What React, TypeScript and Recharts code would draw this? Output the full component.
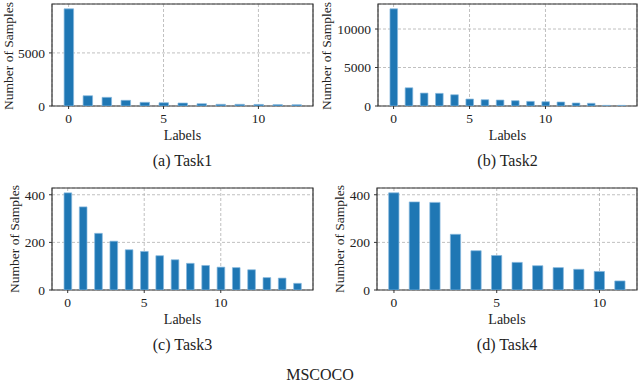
import { BarChart, Bar, XAxis, YAxis, CartesianGrid, ReferenceArea } from 'recharts';

// samples per label
const task1Counts = [9150, 966, 816, 535, 347, 310, 281, 216, 160, 160, 150, 130, 120];
const task2Counts = [12620, 2365, 1680, 1640, 1460, 905, 815, 775, 690, 600, 555, 517, 390, 350, 80, 80];
const task3Counts = [408, 349, 238, 205, 169, 162, 144, 127, 112, 103, 96, 94, 85, 52, 50, 28];
const task4Counts = [408, 370, 368, 234, 165, 145, 116, 102, 94, 87, 78, 38];

const xTicks = [0, 5, 10];
const task1YTicks = [0, 5000];
const task2YTicks = [0, 5000, 10000];
const smallYTicks = [0, 200, 400];

const FONT = '"Liberation Serif", "DejaVu Serif", serif';
const TICK_STYLE = { fontFamily: FONT, fontSize: 13.5, fill: '#222' };
const BAR_COLOR = '#1f77b4';
const FRAME = '#333';

const PANEL_W = 320;
const PANEL_H = 175;
const X_AXIS_H = 30;

interface PanelProps {
  counts: number[];
  yTicks: number[];
  left: number;
  top: number;
  plotTop: number;
  plotBottom: number;
  axisWidth: number;
  right: number;
  yLabelX: number;
  caption: string;
}

function Panel({ counts, yTicks, left, top, plotTop, plotBottom, axisWidth, right, yLabelX, caption }: PanelProps) {
  const rows = counts.map((count, label) => ({ label, count }));
  const n = counts.length;
  // matplotlib-style 5% margins around bars of width 0.5
  const span = n - 0.5;
  const xDomain: [number, number] = [-0.25 - span * 0.05, n - 0.75 + span * 0.05];
  const yMax = Math.max(...counts) * 1.05;
  const plotW = PANEL_W - axisWidth - right;
  const plotH = plotBottom - plotTop;
  const barSize = (0.5 * plotW) / (xDomain[1] - xDomain[0]);
  const cx = axisWidth + plotW / 2;
  const cy = Math.max(plotTop + plotH / 2, 56);

  return (
    <div style={{ position: 'absolute', left, top, width: PANEL_W, height: PANEL_H }}>
      <BarChart
        width={PANEL_W}
        height={PANEL_H}
        data={rows}
        margin={{ top: plotTop, right, left: 0, bottom: PANEL_H - plotBottom - X_AXIS_H }}
      >
        <CartesianGrid stroke="#b0b0b0" strokeDasharray="3 2" strokeWidth={0.8} />
        <XAxis
          dataKey="label"
          type="number"
          domain={xDomain}
          allowDataOverflow
          ticks={xTicks}
          height={X_AXIS_H}
          axisLine={false}
          tickLine={{ stroke: FRAME }}
          tickSize={3}
          tickMargin={4}
          tick={TICK_STYLE}
          label={{
            content: () => (
              <text x={cx} y={plotBottom + 29} textAnchor="middle" dominantBaseline="central"
                fontFamily={FONT} fontSize={14} fill="#222">
                Labels
              </text>
            ),
          }}
        />
        <YAxis
          type="number"
          domain={[0, yMax]}
          allowDataOverflow
          ticks={yTicks}
          width={axisWidth}
          axisLine={false}
          tickLine={{ stroke: FRAME }}
          tickSize={3}
          tickMargin={4}
          tick={TICK_STYLE}
          label={{
            content: () => (
              <text x={yLabelX} y={cy} textAnchor="middle" dominantBaseline="central"
                transform={`rotate(-90, ${yLabelX}, ${cy})`}
                fontFamily={FONT} fontSize={13.5} fill="#222">
                Number of Samples
              </text>
            ),
          }}
        />
        <Bar
          dataKey="count"
          fill={BAR_COLOR}
          stroke="#86b8de"
          strokeWidth={0.7}
          barSize={barSize}
          isAnimationActive={false}
        />
        <ReferenceArea
          x1={xDomain[0]}
          x2={xDomain[1]}
          y1={0}
          y2={yMax}
          fill="none"
          stroke={FRAME}
          strokeWidth={1.2}
          ifOverflow="visible"
        />
      </BarChart>
      <div
        style={{
          position: 'absolute',
          left: cx - 80,
          width: 160,
          top: plotBottom + 55 - 10,
          height: 20,
          lineHeight: '20px',
          textAlign: 'center',
          fontFamily: FONT,
          fontSize: 16,
          color: '#222',
        }}
      >
        {caption}
      </div>
    </div>
  );
}

export default function App() {
  return (
    <div style={{ position: 'absolute', left: 0, top: 0, width: 640, height: 384, background: '#fff' }}>
      <Panel counts={task1Counts} yTicks={task1YTicks} left={0} top={0}
        plotTop={4} plotBottom={106} axisWidth={52} right={7} yLabelX={8} caption="(a) Task1" />
      <Panel counts={task2Counts} yTicks={task2YTicks} left={320} top={0}
        plotTop={4} plotBottom={106} axisWidth={58} right={3} yLabelX={6} caption="(b) Task2" />
      <Panel counts={task3Counts} yTicks={smallYTicks} left={0} top={175}
        plotTop={13} plotBottom={115} axisWidth={52} right={7} yLabelX={14} caption="(c) Task3" />
      <Panel counts={task4Counts} yTicks={smallYTicks} left={320} top={175}
        plotTop={13} plotBottom={115} axisWidth={57} right={3} yLabelX={19} caption="(d) Task4" />
      <div
        style={{
          position: 'absolute',
          left: 0,
          width: 640,
          top: 365,
          height: 20,
          lineHeight: '20px',
          textAlign: 'center',
          fontFamily: FONT,
          fontSize: 16,
          color: '#222',
        }}
      >
        MSCOCO
      </div>
    </div>
  );
}
